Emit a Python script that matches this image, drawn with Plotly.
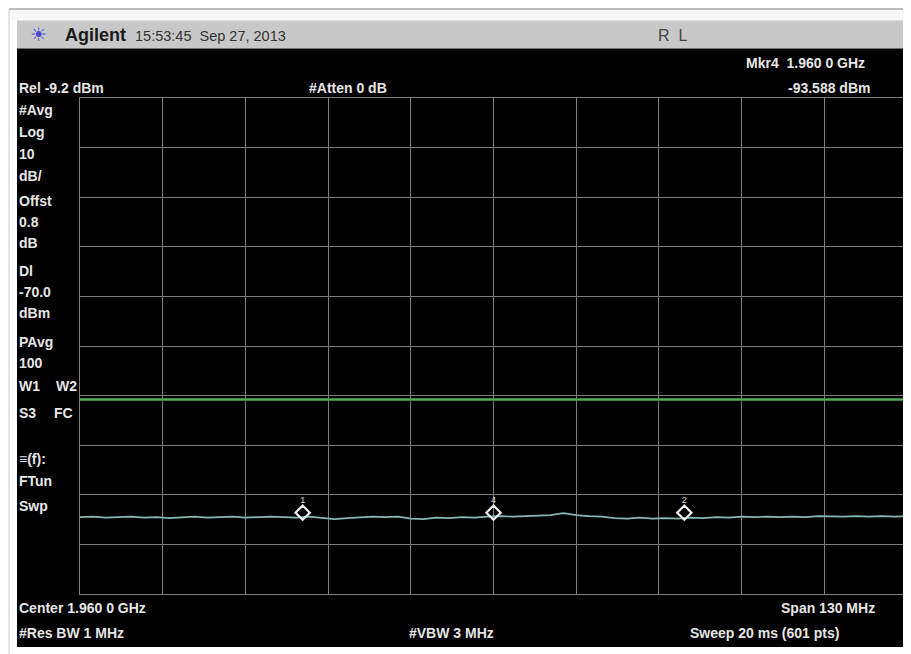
import plotly.graph_objects as go

# ---------------- data ----------------
freq_mhz = [1895, 1897, 1899, 1901, 1903, 1905, 1907, 1909, 1911, 1913,
            1915, 1917, 1919, 1921, 1923, 1925, 1927, 1929, 1931, 1933,
            1935, 1937, 1939, 1941, 1943, 1945, 1947, 1949, 1951, 1953,
            1955, 1957, 1959, 1961, 1963, 1965, 1967, 1969, 1971, 1973,
            1975, 1977, 1979, 1981, 1983, 1985, 1987, 1989, 1991, 1993,
            1995, 1997, 1999, 2001, 2003, 2005, 2007, 2009, 2011, 2013,
            2015, 2017, 2019, 2021, 2023, 2025]
trace_dbm = [-93.7, -93.6, -93.8, -93.7, -93.6, -93.8, -93.7, -93.9, -93.7, -93.6,
             -93.8, -93.7, -93.6, -93.8, -93.7, -93.6, -93.7, -93.8, -93.6, -93.8,
             -94.1, -93.9, -93.7, -93.6, -93.7, -93.6, -94.0, -94.1, -93.8, -93.9,
             -93.7, -93.8, -93.6, -93.5, -93.6, -93.5, -93.4, -93.3, -92.9, -93.3,
             -93.5, -93.6, -93.9, -94.0, -93.8, -94.0, -93.9, -94.0, -93.8, -93.9,
             -93.7, -93.8, -93.6, -93.7, -93.6, -93.7, -93.6, -93.7, -93.5, -93.6,
             -93.6, -93.5, -93.6, -93.5, -93.6, -93.5]
marker_labels = ["1", "4", "2"]
marker_freq_mhz = [1930, 1960, 1990]
marker_dbm = [-92.8, -92.8, -92.8]
ref_level = -9.2
db_per_div = 10
display_line = -70.0
start_mhz = 1895
stop_mhz = 2025
div_mhz = 13

# ---------------- layout helpers (screen pixel -> paper) ----------------
# the page body has an 8px margin, so the figure is drawn 8px right/down
OFF = 8
SW, SH = 911, 654
W, H = SW - OFF, SH - OFF
PL, PR, PT, PB = 80, 907, 97.5, 594  # plot area in screen pixels
L, R, T, B = PL - OFF, W - (PR - OFF), PT - OFF, H - (PB - OFF)
PW, PH = W - L - R, H - T - B


def px(x):
    return (x - OFF - L) / PW


def py(y):
    return (H - B - (y - OFF)) / PH


fig = go.Figure()

fig.add_trace(go.Scatter(
    x=freq_mhz, y=trace_dbm, mode="lines",
    line=dict(color="#86b8b3", width=1.7), hoverinfo="skip", showlegend=False))

fig.add_trace(go.Scatter(
    x=marker_freq_mhz, y=marker_dbm, mode="markers+text",
    text=marker_labels, textposition="top center",
    textfont=dict(family="Liberation Sans", size=9, color="#dddddd"),
    marker=dict(symbol="diamond-open", size=11, color="#f0f0f0",
                line=dict(color="#f0f0f0", width=2.2)),
    hoverinfo="skip", showlegend=False))

shapes = [
    # light strip above header and left frame line
    dict(type="rect", xref="paper", yref="paper", x0=px(9), x1=px(912), y0=py(8), y1=py(20),
         fillcolor="#f7f7f7", line=dict(width=0), layer="below"),
    dict(type="line", xref="paper", yref="paper", x0=px(9), x1=px(912), y0=py(8.5), y1=py(8.5),
         line=dict(color="#a8a8a8", width=1.5), layer="below"),
    dict(type="line", xref="paper", yref="paper", x0=px(9), x1=px(9), y0=py(8), y1=py(654),
         line=dict(color="#dcdcdc", width=1.5), layer="below"),
    # header bar
    dict(type="rect", xref="paper", yref="paper", x0=px(17), x1=px(912), y0=py(20), y1=py(48),
         fillcolor="#c8c8c8", line=dict(width=0), layer="below"),
    # black screen
    dict(type="rect", xref="paper", yref="paper", x0=px(17), x1=px(912), y0=py(48), y1=py(647),
         fillcolor="#000000", line=dict(width=0), layer="below"),
    # display line
    dict(type="line", xref="paper", yref="y", x0=0, x1=px(910), y0=display_line, y1=display_line,
         line=dict(color="#4fae58", width=2.6), layer="above"),
]

font_screen = dict(family="Liberation Sans", size=14, color="#e6e6e6", weight="bold")
annotations = []


def note(text, x, y, xanchor="left", font=None):
    annotations.append(dict(
        text=text, x=px(x), y=py(y), xref="paper", yref="paper",
        xanchor=xanchor, yanchor="middle", showarrow=False,
        font=font or font_screen))


# header
note("\u2600", 28, 33, font=dict(family="DejaVu Sans", size=19, color="#4a4ad8"))
note("Agilent", 63, 34, font=dict(family="Liberation Sans", size=18, color="#1a1a1a", weight="bold"))
note("15:53:45  Sep 27, 2013", 133, 35, font=dict(family="Liberation Sans", size=14.5, color="#333333"))
note("R  L", 656, 35, font=dict(family="Liberation Sans", size=16, color="#444444"))

# top of screen
note("Mkr4  1.960 0 GHz", 867, 62, xanchor="right")
note("Rel -9.2 dBm", 17, 87)
note("#Atten 0 dB", 307, 87)
note("-93.588 dBm", 872, 87, xanchor="right")

# left column
left_items = [("#Avg", 110), ("Log", 132), ("10", 154), ("dB/", 176), ("Offst", 201),
              ("0.8", 222), ("dB", 243), ("Dl", 271), ("-70.0", 292), ("dBm", 313),
              ("PAvg", 342), ("100", 363), ("W1", 386), ("S3", 413),
              ("\u2261(f):", 459), ("FTun", 481), ("Swp", 506)]
for t, y in left_items:
    note(t, 17, y)
note("W2", 54, 386)
note("FC", 52, 413)

# bottom
note("Center 1.960 0 GHz", 17, 608)
note("Span 130 MHz", 877, 608, xanchor="right")
note("#Res BW 1 MHz", 17, 633)
note("#VBW 3 MHz", 407, 633)
note("Sweep 20 ms (601 pts)", 688, 633)

grid_color = "#7d7d7d"
fig.update_layout(
    width=W, height=H,
    margin=dict(l=L, r=R, t=T, b=B, pad=0),
    paper_bgcolor="#ffffff", plot_bgcolor="#000000",
    shapes=shapes, annotations=annotations,
    xaxis=dict(range=[start_mhz, stop_mhz], tick0=start_mhz, dtick=div_mhz,
               showgrid=True, gridcolor=grid_color, gridwidth=1.3,
               showticklabels=False, ticks="", zeroline=False,
               showline=True, linecolor=grid_color, linewidth=1.3, mirror=True),
    yaxis=dict(range=[ref_level - 10 * db_per_div, ref_level], tick0=ref_level, dtick=db_per_div,
               showgrid=True, gridcolor=grid_color, gridwidth=1.3,
               showticklabels=False, ticks="", zeroline=False,
               showline=True, linecolor=grid_color, linewidth=1.3, mirror=True),
    showlegend=False,
)

fig.write_html("out.html")
